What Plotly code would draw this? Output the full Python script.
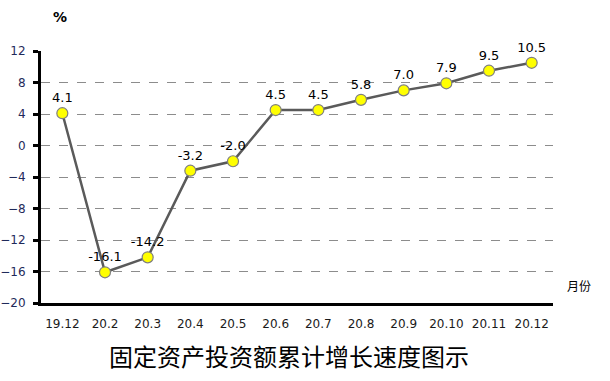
import plotly.graph_objects as go

categories = ["19.12", "20.2", "20.3", "20.4", "20.5", "20.6", "20.7", "20.8", "20.9", "20.10", "20.11", "20.12"]
values = [4.1, -16.1, -14.2, -3.2, -2.0, 4.5, 4.5, 5.8, 7.0, 7.9, 9.5, 10.5]
labels = ["4.1", "-16.1", "-14.2", "-3.2", "-2.0", "4.5", "4.5", "5.8", "7.0", "7.9", "9.5", "10.5"]
y_ticks = [12, 8, 4, 0, -4, -8, -12, -16, -20]

font_fam = "Verdana, DejaVu Sans, sans-serif"

fig = go.Figure()
fig.add_trace(go.Scatter(
    x=categories, y=values, mode="lines+markers+text",
    text=labels, textposition="top center",
    textfont=dict(size=13, color="#000000", family=font_fam),
    line=dict(color="#5a5a5a", width=2.5),
    marker=dict(size=11, color="#ffff00", line=dict(color="#7f7f7f", width=1.2)),
    cliponaxis=False, showlegend=False,
))

fig.update_layout(
    width=610, height=381,
    margin=dict(l=41, r=57, t=51, b=78),
    paper_bgcolor="white", plot_bgcolor="white",
    xaxis=dict(
        type="category", range=[-0.5, 11.5], automargin=False,
        showline=True, linecolor="black", linewidth=3,
        ticks="", showgrid=False,
        tickfont=dict(size=12, color="#1a1a1a", family=font_fam),
        ticklabelstandoff=8,
    ),
    yaxis=dict(
        range=[-20, 12], tickvals=y_ticks, automargin=False,
        showline=True, linecolor="black", linewidth=3,
        ticks="outside", ticklen=5, tickwidth=3, tickcolor="black",
        ticklabelstandoff=5,
        showgrid=True, gridcolor="#8c8c8c", griddash="dash", gridwidth=1,
        zeroline=False,
        tickfont=dict(size=12, color="#1f2a5a", family=font_fam),
    ),
    annotations=[
        dict(text="<b>%</b>", xref="paper", yref="paper", x=0.0, y=1.0,
             xshift=10, yshift=44, showarrow=False,
             font=dict(size=14, color="#000000", family=font_fam)),
        dict(text="月份", xref="paper", yref="paper", x=1.0, y=0.0,
             xshift=40, yshift=7, showarrow=False,
             font=dict(size=12, color="#000000", family="Noto Sans CJK SC")),
        dict(text="固定资产投资额累计增长速度图示", xref="paper", yref="paper",
             x=0.5, y=0.0, yshift=-52, xshift=-8, showarrow=False, yanchor="middle",
             font=dict(size=24, color="#000000", family="Noto Sans CJK SC")),
    ],
)

fig.write_html("out.html", config={"displayModeBar": False},
               post_script="document.body.style.margin='0';")
